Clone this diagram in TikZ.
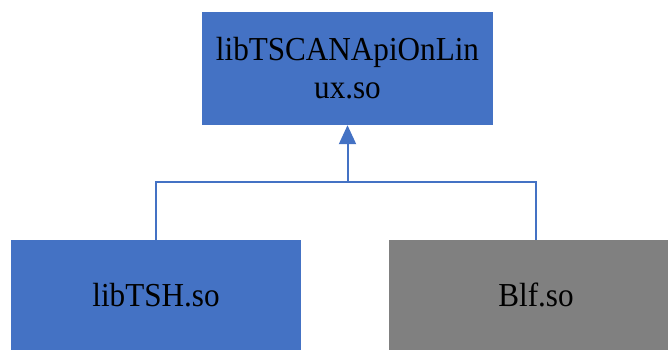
\documentclass[tikz,border=0pt]{standalone}
\usepackage{fontspec}
\setmainfont{Liberation Serif}[FakeStretch=0.93]
\usetikzlibrary{arrows.meta}
\definecolor{boxblue}{HTML}{4472C4}
\definecolor{boxgray}{HTML}{808080}
\begin{document}
\begin{tikzpicture}[x=1pt,y=1pt,
  libbox/.style={rectangle, inner sep=0pt, align=center, text=black,
    font=\fontsize{33.5}{38}\selectfont},
  conn/.style={draw=boxblue, line width=2pt}]
\useasboundingbox (0,0) rectangle (668,350);
\clip (0,0) rectangle (668,350);
\node[libbox, fill=boxblue, minimum width=291pt, minimum height=113pt] (top) at (347.5,281.5) {libTSCANApiOnLin\\ux.so};
\node[libbox, fill=boxblue, minimum width=290pt, minimum height=110pt] (left) at (156,55) {libTSH.so};
\node[libbox, fill=boxgray, minimum width=294pt, minimum height=110pt] (right) at (536,55) {Blf.so};
\coordinate (j) at (347.5,168);
\draw[conn] (left.north) |- (j) -| (right.north);
\draw[conn, -{Triangle[length=19pt,width=17pt]}] (j) -- (top.south);
\end{tikzpicture}
\end{document}
